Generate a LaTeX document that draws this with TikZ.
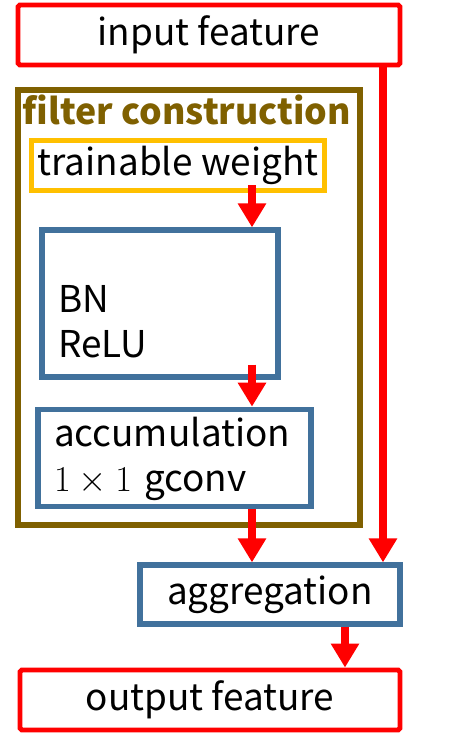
\documentclass[tikz,border=0pt]{standalone}
\usepackage{amsmath}
\usepackage{fontspec}
\setmainfont{Noto Sans CJK JP}
\usetikzlibrary{arrows.meta, calc}
\definecolor{featred}{HTML}{FF0000}
\definecolor{filterbrown}{HTML}{7F6000}
\definecolor{weightgold}{HTML}{FFC000}
\definecolor{opblue}{HTML}{41719C}
\tikzset{
  featurebox/.style={rectangle, rounded corners=1pt, minimum width=7.64cm, minimum height=1.2cm, text centered, draw=featred, line width=2.8pt},
  groupbox/.style={rectangle, minimum width=6.84cm, minimum height=8.7cm, draw=filterbrown, line width=3pt},
  weightbox/.style={rectangle, minimum width=5.76cm, minimum height=0.98cm, text centered, draw=weightgold, line width=2.8pt},
  opbox/.style={rectangle, draw=opblue, line width=3pt},
  arrow/.style={draw=featred, line width=4.5pt, -{Triangle[width=0.54cm, length=0.48cm]}, featred}
}
\begin{document}
\begin{tikzpicture}[
            x=0.02cm, y=-0.02cm,
            every node/.style={font=\fontsize{21pt}{25.6pt}\selectfont},
            leftbox/.style={opbox, align=left, inner xsep=0.32cm}
        ]
            \useasboundingbox (0,0) rectangle (475,745);

            % Entrada y salida
            \node (input) [featurebox] at (209,35) {input feature};
            \node (output) [featurebox, minimum width=7.6cm] at (210,700) {output feature};

            % Bloque de construccion del filtro
            \node (filter) [groupbox] at (189,307.5) {};
            \node (ftitle) [anchor=center, text=filterbrown, font=\fontsize{20.3pt}{25pt}\selectfont\bfseries] at (187,110) {filter construction};
            \node (weight) [weightbox] at (178,165.5) {trainable weight};
            \node (bn) [leftbox, minimum width=4.72cm, minimum height=2.94cm, text width=4.08cm] at (160,303.5) {\strut\\BN\\ReLU\strut};
            \node (accum) [leftbox, minimum width=5.46cm, minimum height=1.92cm, text width=4.82cm] at (174.5,458) {\strut accumulation\\$1\times1$ gconv};

            % Agregacion
            \node (agg) [opbox, minimum width=5.2cm, minimum height=1.18cm] at (270,594.5) {aggregation};

            % Columnas de las flechas
            \coordinate (midline) at (252,0);
            \coordinate (bypass) at (383,0);
            \coordinate (outline) at (345,0);

            % Conexiones
            \draw [arrow] ($(weight.south -| midline)+(0,-8)$) -- (bn.north -| midline);
            \draw [arrow] ($(bn.south -| midline)+(0,-15)$) -- (accum.north -| midline);
            \draw [arrow] (accum.south -| midline) -- (agg.north -| midline);
            \draw [arrow, line width=4pt] (input.south -| bypass) -- (agg.north -| bypass);
            \draw [arrow] (agg.south -| outline) -- (output.north -| outline);
        \end{tikzpicture}
\end{document}
